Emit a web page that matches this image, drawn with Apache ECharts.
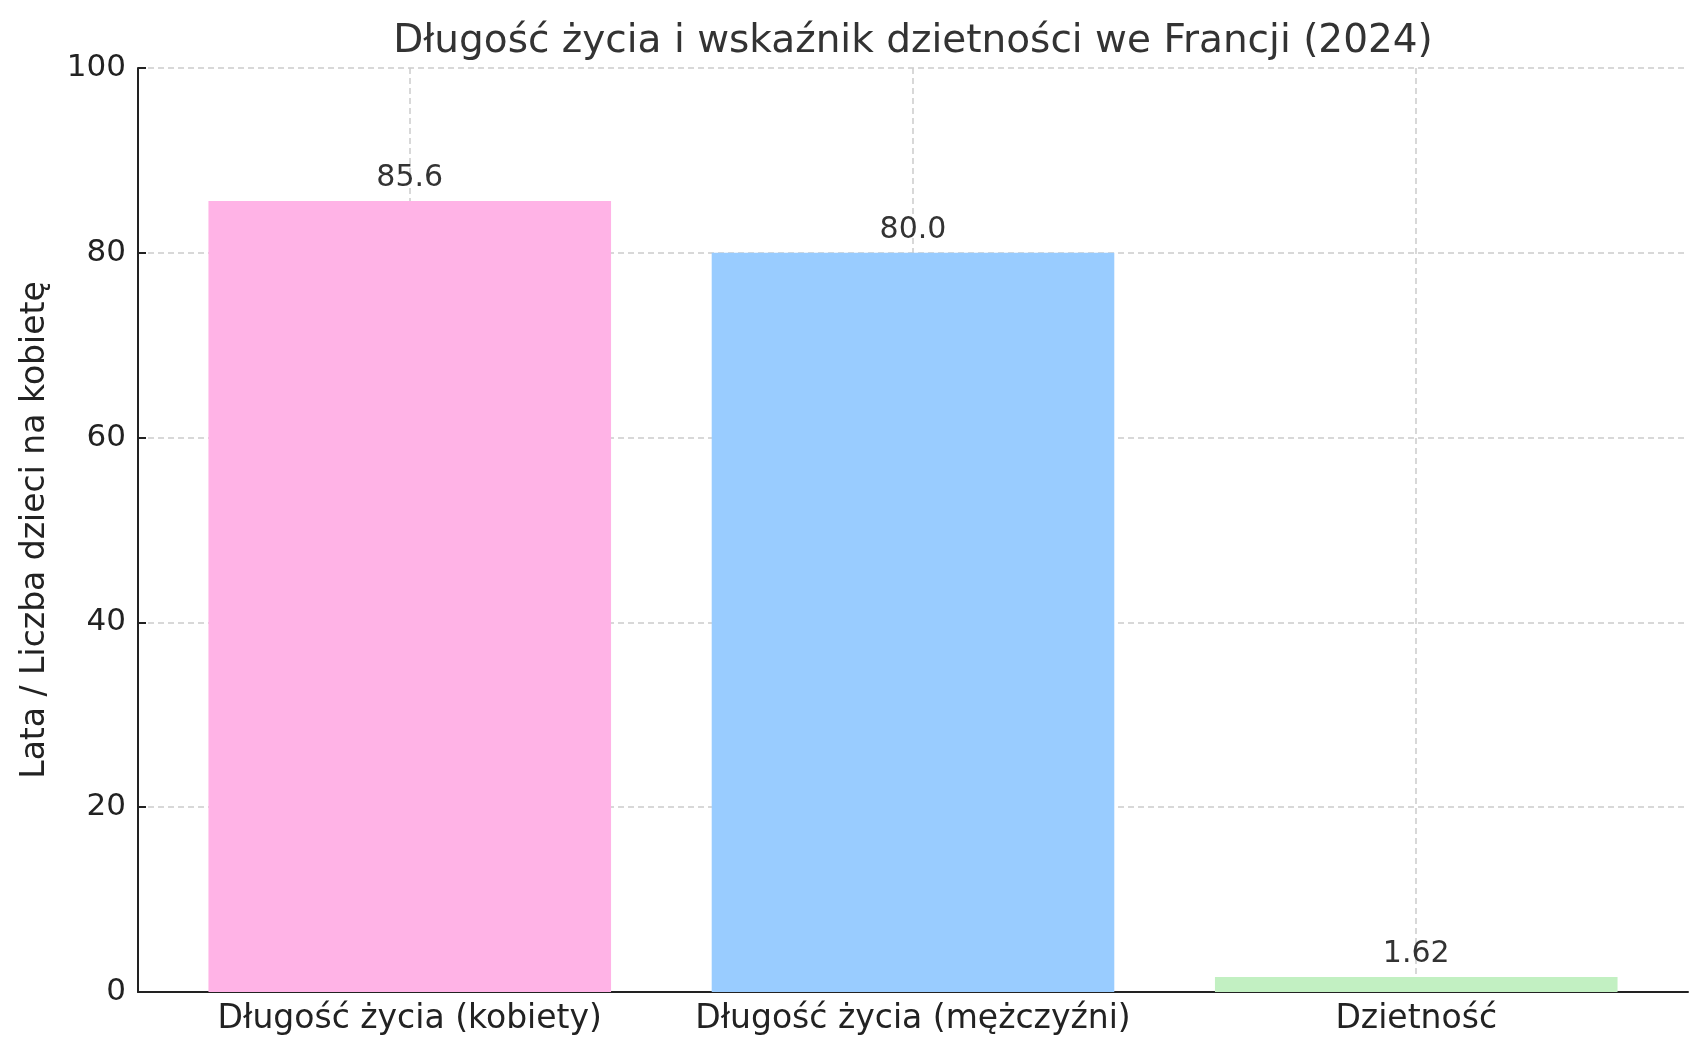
<!DOCTYPE html>
<html>
<head>
<meta charset="UTF-8">
<title>Długość życia i dzietność</title>
<style>
  html, body { margin: 0; padding: 0; background: #fff; }
  #chart { width: 1707px; height: 1056px; }
</style>
</head>
<body>
<div id="chart"></div>
<script src="https://cdn.jsdelivr.net/npm/echarts@6/dist/echarts.min.js"></script>
<script>
// dane z wykresu
var categories = ['Długość życia (kobiety)', 'Długość życia (mężczyźni)', 'Dzietność'];
var values = [85.6, 80.0, 1.62];
var valueLabels = ['85.6', '80.0', '1.62'];
var barColors = ['#ffb3e6', '#99ccff', '#c2f0c2'];
var yTicks = [0, 20, 40, 60, 80, 100];

var positions = categories.map(function (c, i) { return i; });
var font = 'DejaVu Sans';

var chart = echarts.init(document.getElementById('chart'));

var option = {
    backgroundColor: '#fff',
    animation: false,
    title: {
        text: 'Długość życia i wskaźnik dzietności we Francji (2024)',
        left: 908,
        textAlign: 'center',
        top: 17,
        textStyle: { fontFamily: font, fontSize: 39, fontWeight: 'normal', color: '#333' }
    },
    grid: { left: 138, right: 19, top: 68, bottom: 64 },
    xAxis: {
        type: 'value',
        min: -0.54,
        max: 2.54,
        axisLine: { show: true, onZero: false, lineStyle: { color: '#222', width: 2 } },
        axisTick: { show: true, inside: true, length: 8, customValues: positions, lineStyle: { color: '#222', width: 2 } },
        axisLabel: {
            customValues: positions,
            margin: 11,
            fontFamily: font, fontSize: 33, color: '#222',
            formatter: function (v) { return categories[Math.round(v)]; }
        },
        splitLine: { show: true, lineStyle: { color: '#cccccc', type: [6, 4], width: 1.5 } }
    },
    yAxis: {
        type: 'value',
        min: yTicks[0],
        max: yTicks[yTicks.length - 1],
        interval: 20,
        name: 'Lata / Liczba dzieci na kobietę',
        nameLocation: 'middle',
        nameGap: 86,
        nameTextStyle: { fontFamily: font, fontSize: 33, color: '#222' },
        axisLine: { show: true, onZero: false, lineStyle: { color: '#222', width: 2 } },
        axisTick: { show: true, inside: true, length: 8, lineStyle: { color: '#222', width: 2 } },
        axisLabel: { margin: 12, fontFamily: font, fontSize: 31, color: '#222' },
        splitLine: { show: true, lineStyle: { color: '#cccccc', type: [6, 4], width: 1.5 } }
    },
    series: [{
        type: 'bar',
        barWidth: '80%',
        data: values.map(function (v, i) {
            return { value: [positions[i], v], itemStyle: { color: barColors[i] } };
        }),
        label: {
            show: true,
            position: 'top',
            distance: 8,
            fontFamily: font, fontSize: 30, color: '#333',
            formatter: function (p) { return valueLabels[p.dataIndex]; }
        },
        z: 1
    }]
};

chart.setOption(option);
</script>
</body>
</html>
